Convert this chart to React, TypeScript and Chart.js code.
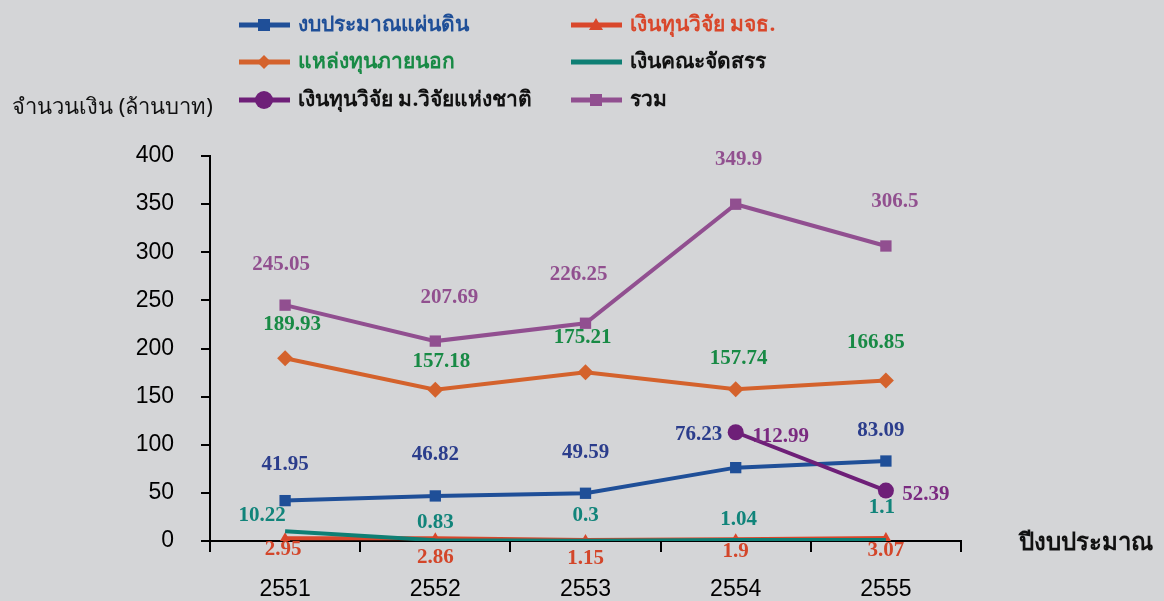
import React, { useEffect, useRef } from "react";
import { Chart, registerables } from "chart.js";

Chart.register(...registerables);

const years = ["2551", "2552", "2553", "2554", "2555"];
const budget = [41.95, 46.82, 49.59, 76.23, 83.09];
const kmuttFund = [2.95, 2.86, 1.15, 1.9, 3.07];
const externalFund = [189.93, 157.18, 175.21, 157.74, 166.85];
const facultyFund = [10.22, 0.83, 0.3, 1.04, 1.1];
const nruFund = [null, null, null, 112.99, 52.39];
const total = [245.05, 207.69, 226.25, 349.9, 306.5];

const seriesNames = [
  "งบประมาณแผ่นดิน",
  "เงินทุนวิจัย มจธ.",
  "แหล่งทุนภายนอก",
  "เงินคณะจัดสรร",
  "เงินทุนวิจัย ม.วิจัยแห่งชาติ",
  "รวม",
];
const yTicks = [0, 50, 100, 150, 200, 250, 300, 350, 400];
const yTitle = "จำนวนเงิน (ล้านบาท)";
const xTitle = "ปีงบประมาณ";

const BG = "#d4d5d7";
const C_BLUE = "#1f4f98";
const C_RED = "#d9472b";
const C_ORANGE = "#d4622c";
const C_TEAL = "#0e7f74";
const C_PURPLE = "#6e1f78";
const C_TOTAL = "#914f90";

// label styling per dataset: color + offsets (px) from the point
const labelStyles = [
  { color: "#2b3d8c", dx: [0, 0, 0, -37, -5], dy: [-36, -41, -41, -33, -30] },
  { color: "#d3462a", dx: [-2, 0, 0, 0, 0], dy: [11, 19, 19, 12, 13] },
  { color: "#188a45", dx: [7, 6, -3, 3, -10], dy: [-34, -28, -35, -31, -38] },
  { color: "#11847a", dx: [-23, 0, 0, 3, -4], dy: [-16, -18, -25, -20, -32] },
  { color: "#7a2a80", dx: [0, 0, 0, 45, 40], dy: [0, 0, 0, 4, 4] },
  { color: "#91508f", dx: [-4, 14, -7, 3, 9], dy: [-41, -44, -49, -45, -44] },
];

const legendItems = [
  { col: 0, row: 0, ds: 0, text: C_BLUE },
  { col: 1, row: 0, ds: 1, text: C_RED },
  { col: 0, row: 1, ds: 2, text: "#188a45" },
  { col: 1, row: 1, ds: 3, text: "#111" },
  { col: 0, row: 2, ds: 4, text: "#111" },
  { col: 1, row: 2, ds: 5, text: "#111" },
];

function drawMarker(ctx: CanvasRenderingContext2D, style: string, x: number, y: number, r: number, color: string) {
  ctx.save();
  ctx.fillStyle = color;
  ctx.beginPath();
  if (style === "rect") {
    ctx.rect(x - r, y - r, 2 * r, 2 * r);
  } else if (style === "rectRot") {
    ctx.moveTo(x, y - r);
    ctx.lineTo(x + r, y);
    ctx.lineTo(x, y + r);
    ctx.lineTo(x - r, y);
    ctx.closePath();
  } else if (style === "triangle") {
    ctx.moveTo(x, y - r);
    ctx.lineTo(x + r, y + r * 0.7);
    ctx.lineTo(x - r, y + r * 0.7);
    ctx.closePath();
  } else if (style === "circle") {
    ctx.arc(x, y, r, 0, Math.PI * 2);
  }
  if (style !== "none") ctx.fill();
  ctx.restore();
}

const markerInfo = [
  { style: "rect", r: 6, color: C_BLUE },
  { style: "triangle", r: 7, color: C_RED },
  { style: "rectRot", r: 7, color: C_ORANGE },
  { style: "none", r: 0, color: C_TEAL },
  { style: "circle", r: 9, color: C_PURPLE },
  { style: "rect", r: 6, color: C_TOTAL },
];

const overlayPlugin = {
  id: "overlay",
  afterDatasetsDraw(chart: any) {
    const ctx = chart.ctx as CanvasRenderingContext2D;
    ctx.save();
    ctx.font = "bold 21px 'Liberation Serif', 'Times New Roman', serif";
    ctx.textAlign = "center";
    ctx.textBaseline = "middle";
    chart.data.datasets.forEach((ds: any, i: number) => {
      const meta = chart.getDatasetMeta(i);
      const st = labelStyles[i];
      ds.data.forEach((v: any, j: number) => {
        if (v === null || v === undefined) return;
        const el = meta.data[j];
        if (!el) return;
        ctx.fillStyle = st.color;
        ctx.fillText(String(v), el.x + st.dx[j], el.y + st.dy[j]);
      });
    });
    ctx.restore();
  },
  afterDraw(chart: any) {
    const ctx = chart.ctx as CanvasRenderingContext2D;
    ctx.save();
    // legend
    const colLine = [239, 571];
    const rowY = [25, 62, 100];
    ctx.font = "bold 21px 'Noto Sans', 'Liberation Sans', sans-serif";
    ctx.textBaseline = "middle";
    ctx.textAlign = "left";
    legendItems.forEach((it) => {
      const x0 = colLine[it.col];
      const y = rowY[it.row];
      const m = markerInfo[it.ds];
      ctx.strokeStyle = m.color;
      ctx.lineWidth = 5;
      ctx.beginPath();
      ctx.moveTo(x0, y);
      ctx.lineTo(x0 + 51, y);
      ctx.stroke();
      drawMarker(ctx, m.style, x0 + 25, y, m.r, m.color);
      ctx.fillStyle = it.text;
      ctx.fillText(seriesNames[it.ds], x0 + 59, y);
    });
    // y title
    ctx.fillStyle = "#111";
    ctx.font = "22px 'Noto Sans', 'Liberation Sans', sans-serif";
    ctx.fillText(yTitle, 12, 108);
    // x title
    ctx.font = "bold 24px 'Noto Sans', 'Liberation Sans', sans-serif";
    ctx.fillText(xTitle, 1019, 543);
    ctx.restore();
  },
};

export default function App() {
  const ref = useRef<HTMLCanvasElement | null>(null);
  useEffect(() => {
    if (!ref.current) return;
    const mk = (label: string, data: any[], color: string, style: any, radius: number, order: number) => ({
      label,
      data,
      borderColor: color,
      backgroundColor: color,
      borderWidth: 4,
      pointStyle: style,
      pointRadius: radius,
      pointHoverRadius: radius,
      pointBorderWidth: 0,
      tension: 0,
      fill: false,
      order,
    });
    const chart = new Chart(ref.current, {
      type: "line",
      data: {
        labels: years,
        datasets: [
          mk(seriesNames[0], budget, C_BLUE, "rect", 8, 3),
          mk(seriesNames[1], kmuttFund, C_RED, "triangle", 6, 1),
          mk(seriesNames[2], externalFund, C_ORANGE, "rectRot", 8, 4),
          mk(seriesNames[3], facultyFund, C_TEAL, "circle", 0, 0),
          mk(seriesNames[4], nruFund, C_PURPLE, "circle", 8, 2),
          mk(seriesNames[5], total, C_TOTAL, "rect", 8, 5),
        ],
      },
      options: {
        animation: false,
        responsive: false,
        events: [],
        layout: { padding: { left: 0, top: 156, right: 203, bottom: 0 } },
        plugins: { legend: { display: false }, tooltip: { enabled: false } },
        scales: {
          x: {
            offset: true,
            afterFit: (s: any) => {
              s.height = 60;
            },
            grid: {
              display: true,
              drawOnChartArea: false,
              drawTicks: true,
              tickLength: 11,
              color: "#000",
              lineWidth: 2,
              offset: true,
            },
            border: { display: true, color: "#000", width: 2 },
            ticks: {
              color: "#000",
              padding: 24,
              font: { family: "'Liberation Sans', Arial, sans-serif", size: 23 },
            },
          },
          y: {
            min: 0,
            max: 400,
            afterFit: (s: any) => {
              s.width = 210;
            },
            afterBuildTicks: (s: any) => {
              s.ticks = yTicks.map((v) => ({ value: v }));
            },
            grid: {
              display: true,
              drawOnChartArea: false,
              drawTicks: true,
              tickLength: 9,
              color: "#000",
              lineWidth: 2,
            },
            border: { display: true, color: "#000", width: 2 },
            ticks: {
              color: "#000",
              padding: 27,
              font: { family: "'Liberation Sans', Arial, sans-serif", size: 23 },
            },
          },
        },
      },
      plugins: [overlayPlugin],
    });
    return () => chart.destroy();
  }, []);
  return (
    <div style={{ position: "fixed", left: 0, top: 0, width: 1164, height: 601, background: BG }}>
      <canvas ref={ref} width={1164} height={601} style={{ width: 1164, height: 601, display: "block" }} />
    </div>
  );
}
